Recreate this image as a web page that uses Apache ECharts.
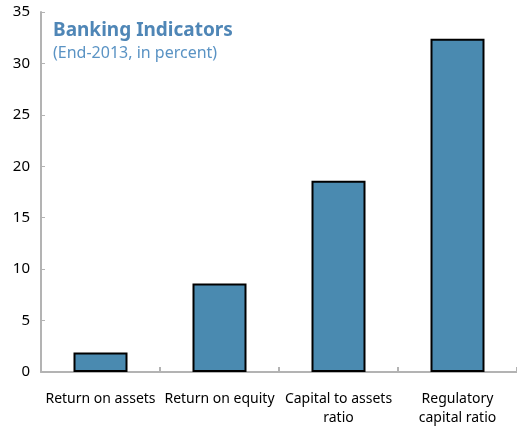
<!DOCTYPE html>
<html>
<head>
<meta charset="utf-8">
<script src="https://cdn.jsdelivr.net/npm/echarts@6/dist/echarts.min.js"></script>
<style>
  html, body { margin: 0; padding: 0; background: #fff; }
  #chart { width: 517px; height: 428px; }
</style>
</head>
<body>
<div id="chart"></div>
<script>
const categories = ["Return on assets", "Return on equity", "Capital to assets\nratio", "Regulatory\ncapital ratio"];
const values = [1.9, 8.6, 18.6, 32.4];
const yTicks = [0, 5, 10, 15, 20, 25, 30, 35];

const chart = echarts.init(document.getElementById("chart"));
const font = "Noto Sans";

chart.setOption({
  animation: false,
  title: {
    text: "Banking Indicators",
    subtext: "(End-2013, in percent)",
    left: 48,
    top: 16,
    itemGap: 5,
    textStyle: { fontFamily: font, fontSize: 19, fontWeight: "bold", color: "#4f86b6" },
    subtextStyle: { fontFamily: font, fontSize: 16, color: "#5a93c4" },
  },
  grid: { left: 41, right: 0, top: 12, bottom: 54 },
  xAxis: {
    type: "category",
    data: categories,
    axisLine: { lineStyle: { color: "#b3b3b3", width: 2 } },
    axisTick: { show: true, inside: true, length: 5, lineStyle: { color: "#b3b3b3", width: 2 } },
    axisLabel: { fontFamily: font, fontSize: 14, color: "#000", margin: 18, lineHeight: 19, interval: 0 },
  },
  yAxis: {
    type: "value",
    min: yTicks[0],
    max: yTicks[yTicks.length - 1],
    interval: 5,
    axisLine: { show: true, lineStyle: { color: "#b3b3b3", width: 2 } },
    axisTick: { show: true, inside: true, length: 4, lineStyle: { color: "#b3b3b3" } },
    axisLabel: { fontFamily: font, fontSize: 15, color: "#000", margin: 11 },
    splitLine: { show: false },
  },
  series: [
    {
      type: "bar",
      data: values,
      barWidth: 54,
      itemStyle: { color: "#4a8ab0", borderColor: "#000", borderWidth: 2 },
    },
  ],
});
</script>
</body>
</html>
